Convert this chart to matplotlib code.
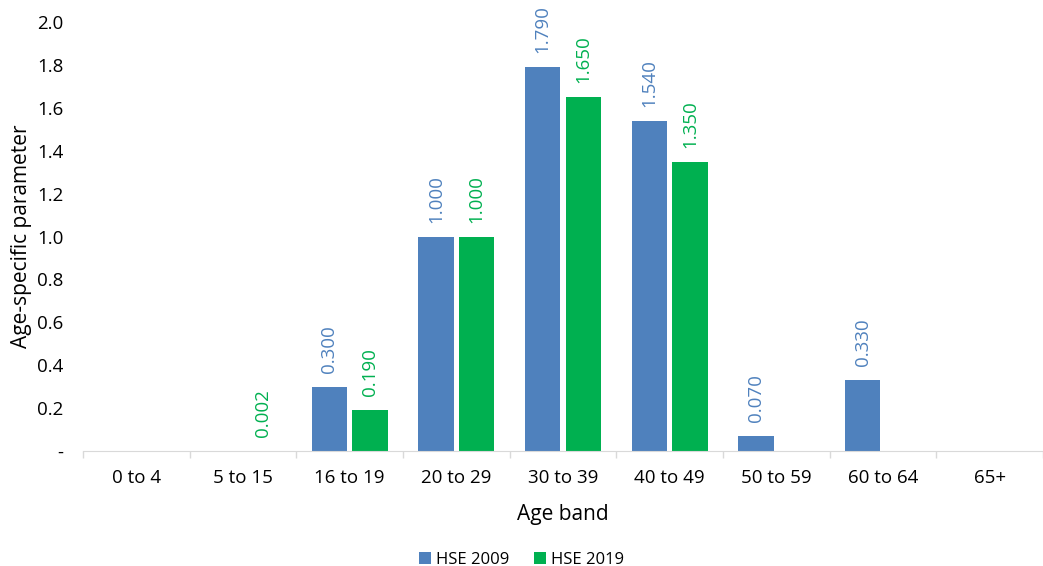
import matplotlib
matplotlib.use("Agg")
import matplotlib.pyplot as plt
import numpy as np

categories = ["0 to 4", "5 to 15", "16 to 19", "20 to 29", "30 to 39",
              "40 to 49", "50 to 59", "60 to 64", "65+"]
hse2009 = [0.0, 0.0, 0.300, 1.000, 1.790, 1.540, 0.070, 0.330, 0.0]
hse2019 = [0.0, 0.002, 0.190, 1.000, 1.650, 1.350, 0.0, 0.0, 0.0]
yticks = [0.0, 0.2, 0.4, 0.6, 0.8, 1.0, 1.2, 1.4, 1.6, 1.8, 2.0]
ytick_labels = ["-", "0.2", "0.4", "0.6", "0.8", "1.0", "1.2", "1.4", "1.6", "1.8", "2.0"]

BLUE = "#4F81BD"
GREEN = "#00B050"

plt.rcParams['font.family'] = ['Open Sans', 'DejaVu Sans']

fig = plt.figure(figsize=(10.43, 5.66), dpi=100)
ax = fig.add_axes([0.0796, 0.203, 0.9204, 0.758])

x = np.arange(len(categories))
w = 0.33
off = 0.19
b1 = ax.bar(x - off, hse2009, w, color=BLUE, label="HSE 2009")
b2 = ax.bar(x + off, hse2019, w, color=GREEN, label="HSE 2019")

for xi, v in zip(x, hse2009):
    if v > 0:
        ax.annotate(f"{v:.3f}", (xi - off, v), xytext=(0, 10), textcoords="offset points",
                    rotation=90, ha="center", va="bottom", color=BLUE, fontsize=13.5)
for xi, v in zip(x, hse2019):
    if v > 0:
        ax.annotate(f"{v:.3f}", (xi + off, v), xytext=(0, 10), textcoords="offset points",
                    rotation=90, ha="center", va="bottom", color=GREEN, fontsize=13.5)

ax.set_xlim(-0.5, len(categories) - 0.5)
ax.set_ylim(0, 2.0)
ax.set_yticks(yticks)
ax.set_yticklabels(ytick_labels, fontsize=13.5)
ax.set_xticks(x)
ax.set_xticklabels(categories, fontsize=13.5)
ax.tick_params(axis="x", length=0, pad=13)
ax.tick_params(axis="y", length=0, pad=14)
ax.set_xticks(np.arange(-0.5, len(categories), 1.0), minor=True)
ax.tick_params(axis="x", which="minor", length=5, color="#D9D9D9", width=1)

for s in ["top", "right", "left"]:
    ax.spines[s].set_visible(False)
ax.spines["bottom"].set_color("#D9D9D9")

ax.set_ylabel("Age-specific parameter", fontsize=15, labelpad=4)
ax.set_xlabel("Age band", fontsize=15, labelpad=12)

fig.legend(handles=[b1, b2], loc="lower center", bbox_to_anchor=(0.5, -0.03), ncol=2,
           frameon=False, fontsize=12, handlelength=0.7, handleheight=0.7,
           handletextpad=0.3, columnspacing=1.5)

fig.savefig("out.png", dpi=100)
